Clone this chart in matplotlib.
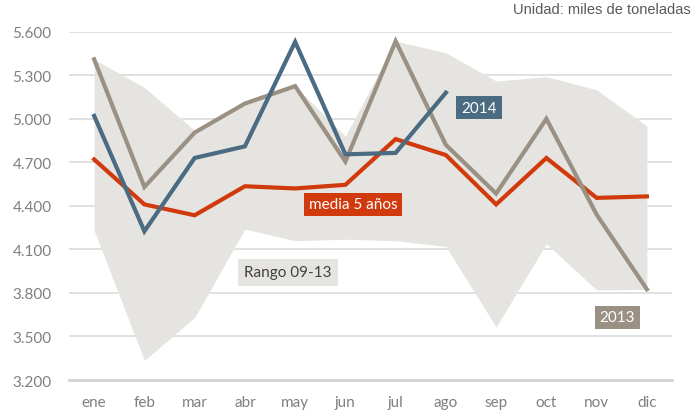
import matplotlib.pyplot as plt
import numpy as np

meses = ['ene', 'feb', 'mar', 'abr', 'may', 'jun', 'jul', 'ago', 'sep', 'oct', 'nov', 'dic']

# miles de toneladas
rango_max = [5410, 5215, 4920, 5105, 5225, 4880, 5535, 5455, 5260, 5290, 5200, 4950]
rango_min = [4230, 3335, 3630, 4240, 4160, 4170, 4160, 4120, 3565, 4140, 3820, 3825]
media_5 = [4720, 4410, 4335, 4535, 4520, 4545, 4860, 4750, 4410, 4730, 4455, 4465]
serie_2013 = [5410, 4530, 4905, 5105, 5225, 4705, 5535, 4820, 4485, 5000, 4340, 3825]
serie_2014 = [5020, 4225, 4730, 4810, 5530, 4755, 4765, 5180]

yticks = [3200, 3500, 3800, 4100, 4400, 4700, 5000, 5300, 5600]

c_band = '#e6e4e0'
c_red = '#d13a0c'
c_blue = '#4a6b82'
c_taupe = '#9b9084'
c_tick = '#7f7f7f'

plt.rcParams['font.family'] = ['Lato', 'DejaVu Sans']

fig = plt.figure(figsize=(6.91, 4.14), dpi=100)
ax = fig.add_axes([0.0999, 0.0797, 0.8726, 0.8413])

x = np.arange(len(meses))
ax.fill_between(x, rango_min, rango_max, color=c_band, lw=0, zorder=1)
ax.plot(x, media_5, color=c_red, lw=3, zorder=3, solid_joinstyle='miter')
ax.plot(x, serie_2013, color=c_taupe, lw=3, zorder=4, solid_joinstyle='miter')
ax.plot(x[:len(serie_2014)], serie_2014, color=c_blue, lw=3, zorder=5, solid_joinstyle='miter')

ax.set_xlim(-0.5, 11.5)
ax.set_ylim(3200, 5600)
ax.set_yticks(yticks)
ax.set_yticklabels([f'{v:,}'.replace(',', '.') for v in yticks])
ax.set_xticks(x)
ax.set_xticklabels(meses)
ax.tick_params(length=0, labelsize=11, colors=c_tick)
ax.tick_params(axis='x', pad=11)
ax.tick_params(axis='y', pad=12.5)

ax.grid(axis='y', color='#dcdcdc', lw=1.2, zorder=0)
ax.set_axisbelow(True)
for s in ax.spines.values():
    s.set_visible(False)
ax.axhline(3200, color='#d3d3d3', lw=2, zorder=0.5, clip_on=False)

# etiquetas
ax.text(7.66, 5077, '2014', color='white', fontsize=11, ha='center', va='center', zorder=6,
        bbox=dict(boxstyle='square,pad=0.32', fc=c_blue, ec='none'))
ax.text(5.15, 4410, 'media 5 años', color='white', fontsize=11, ha='center', va='center', zorder=6,
        bbox=dict(boxstyle='square,pad=0.32', fc=c_red, ec='none'))
ax.text(10.41, 3632, '2013', color='white', fontsize=11, ha='center', va='center', zorder=6,
        bbox=dict(boxstyle='square,pad=0.3', fc=c_taupe, ec='none'))
ax.text(3.86, 3943, 'Rango 09-13', color='#404040', fontsize=11, ha='center', va='center', zorder=6,
        bbox=dict(boxstyle='square,pad=0.42', fc=c_band, ec='none'))

fig.text(0.999, 0.975, 'Unidad: miles de toneladas', ha='right', va='center', fontsize=10.5,
         color='#595959', family=['Liberation Sans', 'DejaVu Sans'])

fig.savefig('out.png', dpi=100)
